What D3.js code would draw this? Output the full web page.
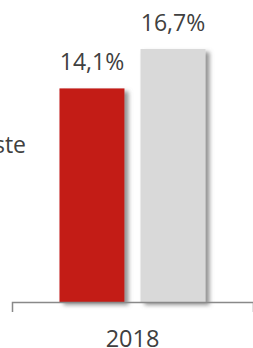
<!DOCTYPE html>
<html>
<head>
<meta charset="utf-8">
<script src="https://cdn.jsdelivr.net/npm/d3@7"></script>
<style>
  html, body { margin: 0; padding: 0; background: #fff; overflow: hidden; }
  text { font-family: "Open Sans", sans-serif; fill: #404040; }
</style>
</head>
<body>
<div id="chart"></div>
<script>
// values
const years = ['2018']
const series = ['a', 'b']
const values = [14.1, 16.7]
const labels = ['14,1%', '16,7%']
const colors = ['#c31b17', '#d9d9d9']
const legendText = 'ste'

const width = 253
const height = 348
const axisY = 302

const svg = d3.select('#chart')
    .append('svg')
    .attr('width', width)
    .attr('height', height)

// soft shadow on the right of the bars
const defs = svg.append('defs')
defs.append('filter')
    .attr('id', 'shadow')
    .attr('x', '-20%').attr('y', '-20%')
    .attr('width', '150%').attr('height', '140%')
    .append('feDropShadow')
        .attr('dx', 4)
        .attr('dy', 3)
        .attr('stdDeviation', 2.2)
        .attr('flood-color', '#777')
        .attr('flood-opacity', 0.8)

const x0 = d3.scaleBand()
    .domain(years)
    .range([12, width])
    .paddingOuter(0.325)

const x1 = d3.scaleBand()
    .domain(series)
    .range([0, x0.bandwidth()])
    .paddingInner(0.1975)

const y = d3.scaleLinear()
    .domain([0, 16.7])
    .range([axisY, 49])

// bars
const g = svg.append('g')
    .attr('transform', `translate(${x0('2018')},0)`)

g.selectAll('.bar')
    .data(values)
    .enter()
    .append('rect')
        .attr('class', 'bar')
        .attr('x', (d, i) => x1(series[i]))
        .attr('y', d => y(d))
        .attr('width', x1.bandwidth())
        .attr('height', d => axisY - y(d))
        .attr('fill', (d, i) => colors[i])
        .attr('filter', 'url(#shadow)')

// value labels
g.selectAll('.lbl')
    .data(values)
    .enter()
    .append('text')
        .attr('class', 'lbl')
        .attr('x', (d, i) => x1(series[i]) + x1.bandwidth() / 2)
        .attr('y', d => y(d) - 18)
        .attr('text-anchor', 'middle')
        .style('font-size', '23px')
        .text((d, i) => labels[i])

// x axis
const xAxis = svg.append('g')
    .attr('transform', `translate(0,${axisY})`)
    .call(d3.axisBottom(x0).tickSizeInner(0).tickSizeOuter(10).tickPadding(28))

xAxis.select('.domain')
    .attr('stroke', '#898989')
    .attr('stroke-width', 1.5)

xAxis.selectAll('.tick text')
    .style('font-size', '23.5px')
    .style('font-family', '"Open Sans", sans-serif')
    .attr('fill', '#404040')

// cut-off legend text at the left edge
svg.append('text')
    .attr('x', 26)
    .attr('y', 153)
    .attr('text-anchor', 'end')
    .style('font-size', '23px')
    .text(legendText)
</script>
</body>
</html>
